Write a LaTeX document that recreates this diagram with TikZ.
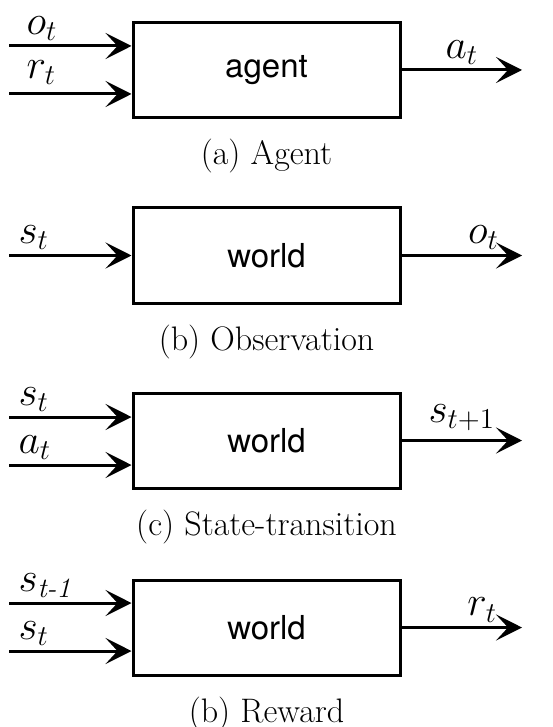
\documentclass[tikz,border=0pt]{standalone}
\usepackage{amsmath}
\usepackage{fontspec}
\newfontfamily\blkfont{TeX Gyre Heros}
\usetikzlibrary{arrows.meta, positioning}

\begin{document}
\begin{tikzpicture}[
  x=0.5pt, y=-0.5pt,
  node distance=10pt,
  every node/.style={font=\fontsize{20}{24}\selectfont},
  blk/.style={draw, line width=1.5pt, minimum width=133.5pt, minimum height=47.5pt, inner sep=0pt, font=\blkfont\fontsize{16.5}{19}\selectfont},
  sig/.style={line width=1.5pt, -{Stealth[length=13pt, width=13pt, inset=6pt]}},
  lbl/.style={above, inner sep=2pt},
  inlbl/.style={above right, inner sep=2pt, xshift=2pt},
  captxt/.style={font=\fontsize{17}{20}\selectfont, inner sep=0pt}
]
  \useasboundingbox (0,0) rectangle (552,727);

  % (a) agent
  \node[blk] (agent) at (266.5,70) {agent};
  \coordinate (aIn1) at (9,46);
  \coordinate (aIn2) at (9,94);
  \coordinate (aOut) at (522,70);
  \draw[sig] (aIn1) -- node[inlbl, at start, xshift=4pt] {$o_t$} (aIn1 -| agent.west);
  \draw[sig] (aIn2) -- node[inlbl, at start, xshift=4pt, yshift=2pt] {$r_t$} (aIn2 -| agent.west);
  \draw[sig] (agent) -- node[lbl] {$a_t$} (aOut);
  \node[captxt, below=of agent] (capa) {(a) Agent};

  % (b) observation
  \node[blk] (obs) at (266.5,255.5) {world};
  \coordinate (bIn) at (9,255.5);
  \coordinate (bOut) at (522,255.5);
  \draw[sig] (bIn) -- node[inlbl, at start] {$s_t$} (obs);
  \draw[sig] (obs) -- node[lbl, pos=0.68] {$o_t$} (bOut);
  \node[captxt, below=of obs] (capb) {(b) Observation};

  % (c) state transition
  \node[blk] (trans) at (266.5,440.5) {world};
  \coordinate (cIn1) at (9,417);
  \coordinate (cIn2) at (9,465);
  \coordinate (cOut) at (522,440.5);
  \draw[sig] (cIn1) -- node[inlbl, at start] {$s_t$} (cIn1 -| trans.west);
  \draw[sig] (cIn2) -- node[inlbl, at start] {$a_t$} (cIn2 -| trans.west);
  \draw[sig] (trans) -- node[lbl, yshift=2pt] {$s_{t+1}$} (cOut);
  \node[captxt, below=of trans] (capc) {(c) State-transition};

  % (d) reward
  \node[blk] (rew) at (266.5,627.5) {world};
  \coordinate (dIn1) at (9,603);
  \coordinate (dIn2) at (9,651);
  \coordinate (dOut) at (522,627.5);
  \draw[sig] (dIn1) -- node[inlbl, at start] {$s_{\text{\itshape t-1}}$} (dIn1 -| rew.west);
  \draw[sig] (dIn2) -- node[inlbl, at start] {$s_t$} (dIn2 -| rew.west);
  \draw[sig] (rew) -- node[lbl, pos=0.67] {$r_t$} (dOut);
  \node[captxt, below=of rew] (capd) {(b) Reward};
\end{tikzpicture}
\end{document}
